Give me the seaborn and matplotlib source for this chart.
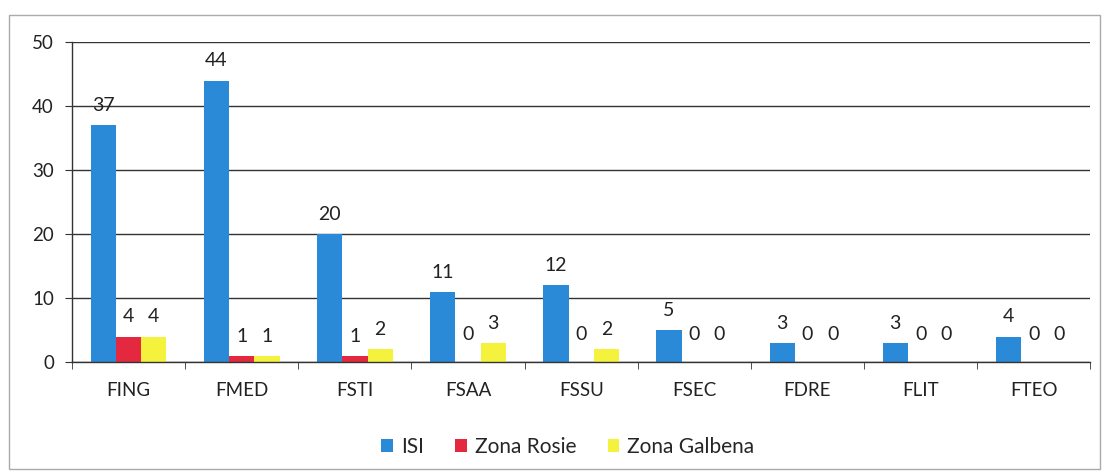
import matplotlib
matplotlib.use("Agg")
import matplotlib.pyplot as plt
import seaborn as sns
import pandas as pd
import numpy as np
from matplotlib.patches import Rectangle

faculties = ["FING", "FMED", "FSTI", "FSAA", "FSSU", "FSEC", "FDRE", "FLIT", "FTEO"]
isi = [37, 44, 20, 11, 12, 5, 3, 3, 4]
zona_rosie = [4, 1, 1, 0, 0, 0, 0, 0, 0]
zona_galbena = [4, 1, 2, 3, 2, 0, 0, 0, 0]
series_names = ["ISI", "Zona Rosie", "Zona Galbena"]
colors = ["#2a8ad8", "#e3283f", "#f5f23e"]

df = pd.DataFrame({
    "Facultate": faculties * 3,
    "Serie": [s for s in series_names for _ in faculties],
    "Valoare": isi + zona_rosie + zona_galbena,
})

sns.set_style("white")
plt.rcParams["font.family"] = ["Lato", "DejaVu Sans"]

fig = plt.figure(figsize=(11.08, 4.74), dpi=100)
ax = fig.add_axes([0.065, 0.236, 0.919, 0.675])

sns.barplot(data=df, x="Facultate", y="Valoare", hue="Serie",
            order=faculties, hue_order=series_names, palette=colors,
            width=0.67, saturation=1, ax=ax, errorbar=None, linewidth=0)

# value labels; zero bars get their label lifted a bit, like the original
for cont in ax.containers:
    vals = cont.datavalues
    ax.bar_label(cont, labels=[f"{v:.0f}" if v > 0 else "" for v in vals],
                 padding=8, fontsize=14, color="#222222")
    ax.bar_label(cont, labels=["0" if v == 0 else "" for v in vals],
                 padding=14, fontsize=14, color="#222222")

ax.set_ylim(0, 50)
ax.set_xlim(-0.5, len(faculties) - 0.5)
ax.set_yticks(range(0, 51, 10))
ax.yaxis.grid(True, color="#333333", linewidth=1)
ax.set_axisbelow(True)
ax.set_xlabel("")
ax.set_ylabel("")

for side in ["top", "right"]:
    ax.spines[side].set_visible(False)
for side in ["left", "bottom"]:
    ax.spines[side].set_color("#333333")
    ax.spines[side].set_linewidth(1)

ax.set_xticks(np.arange(-0.5, len(faculties)), minor=True)
ax.tick_params(axis="x", which="major", length=0, labelsize=13.5, pad=14, colors="#222222")
ax.tick_params(axis="x", which="minor", length=5, direction="out", color="#333333", bottom=True)
ax.tick_params(axis="y", length=5, direction="out", labelsize=13.5, pad=8, color="#333333",
               colors="#222222", left=True)

leg = ax.legend(loc="upper center", bbox_to_anchor=(0.487, -0.175), ncol=3, frameon=False,
                fontsize=15, handlelength=0.55, handleheight=0.55, handletextpad=0.4,
                columnspacing=1.5)

fig.patches.append(Rectangle((0.008, 0.01), 0.985, 0.958, transform=fig.transFigure,
                             fill=False, edgecolor="#aaaaaa", linewidth=1))

fig.savefig("out.png", dpi=100)
